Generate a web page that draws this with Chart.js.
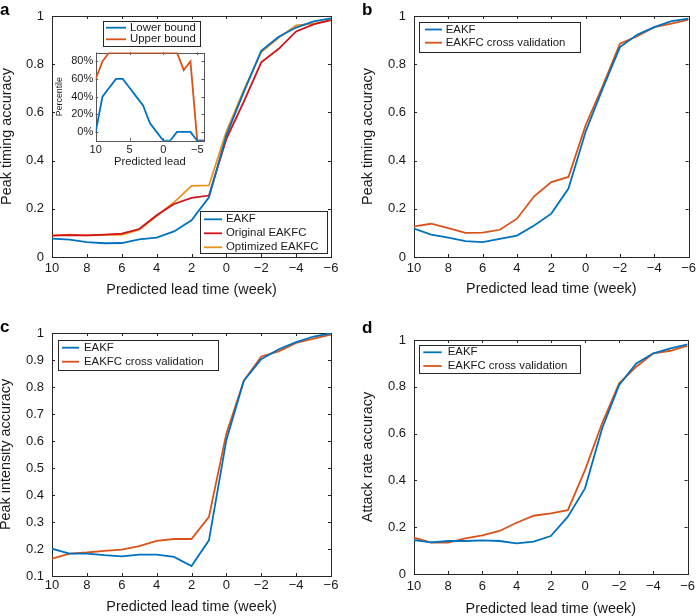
<!DOCTYPE html>
<html><head><meta charset="utf-8">
<script src="https://cdn.jsdelivr.net/npm/chart.js@4.4.1/dist/chart.umd.min.js"></script>
<style>
html,body{margin:0;padding:0;background:#fff;}
body{width:700px;height:616px;position:relative;overflow:hidden;font-family:"Liberation Sans",Arial,sans-serif;}
canvas{position:absolute;}
.lt{position:absolute;font-weight:bold;font-size:17px;line-height:17px;color:#000;font-family:"Liberation Sans",Arial,sans-serif;}
</style></head><body>
<canvas id="ca" width="350" height="300" style="left:0;top:0"></canvas>
<canvas id="cb" width="350" height="300" style="left:350px;top:0"></canvas>
<canvas id="cc" width="350" height="316" style="left:0;top:300px"></canvas>
<canvas id="cd" width="350" height="316" style="left:350px;top:300px"></canvas>
<canvas id="ci" width="170" height="160" style="left:45px;top:15px"></canvas>
<div class="lt" style="left:0;top:1px">a</div>
<div class="lt" style="left:362px;top:1px">b</div>
<div class="lt" style="left:0;top:318px">c</div>
<div class="lt" style="left:362px;top:319px">d</div>
<script>
// ---------- data ----------
const leadWeeks = [10, 9, 8, 7, 6, 5, 4, 3, 2, 1, 0, -1, -2, -3, -4, -5, -6];
const xTickValues = [10, 8, 6, 4, 2, 0, -2, -4, -6];
const accuracyTicks = [0, 0.2, 0.4, 0.6, 0.8, 1];
const intensityTicks = [0.1, 0.2, 0.3, 0.4, 0.5, 0.6, 0.7, 0.8, 0.9, 1];
const insetXTicks = [10, 5, 0, -5];
const insetYTicks = [0, 20, 40, 60, 80];

// panel a
const aEAKF      = [0.076, 0.072, 0.062, 0.057, 0.058, 0.073, 0.080, 0.106, 0.152, 0.248, 0.505, 0.685, 0.856, 0.914, 0.952, 0.978, 0.990];
const aOriginal  = [0.089, 0.091, 0.090, 0.093, 0.097, 0.116, 0.173, 0.220, 0.245, 0.255, 0.490, 0.645, 0.808, 0.864, 0.936, 0.965, 0.983];
const aOptimized = [0.090, 0.093, 0.090, 0.092, 0.092, 0.113, 0.170, 0.227, 0.295, 0.297, 0.520, 0.692, 0.850, 0.910, 0.961, 0.968, 0.983];
// inset of panel a (percentile)
const insetLower = [0, 40, 50, 60, 60, 50, 40, 30, 10, 0, -10, -10, 0, 0, 0, -10, -10];
const insetUpper = [60, 80, 90, 90, 90, 90, 90, 90, 90, 90, 90, 90, 90, 70, 80, -10, -10];
// panel b
const bEAKF  = [0.118, 0.093, 0.080, 0.066, 0.062, 0.075, 0.089, 0.131, 0.180, 0.284, 0.520, 0.700, 0.871, 0.922, 0.954, 0.979, 0.989];
const bCross = [0.127, 0.138, 0.120, 0.100, 0.101, 0.113, 0.159, 0.252, 0.311, 0.332, 0.546, 0.710, 0.885, 0.916, 0.954, 0.968, 0.985];
// panel c
const cEAKF  = [0.201, 0.183, 0.183, 0.177, 0.173, 0.179, 0.179, 0.171, 0.137, 0.232, 0.604, 0.823, 0.903, 0.940, 0.966, 0.987, 0.999];
const cCross = [0.164, 0.183, 0.187, 0.193, 0.198, 0.211, 0.230, 0.237, 0.237, 0.319, 0.628, 0.823, 0.913, 0.932, 0.963, 0.979, 0.994];
// panel d
const dEAKF  = [0.145, 0.135, 0.141, 0.141, 0.144, 0.141, 0.131, 0.138, 0.162, 0.245, 0.366, 0.622, 0.808, 0.900, 0.943, 0.964, 0.981];
const dCross = [0.155, 0.134, 0.134, 0.152, 0.165, 0.184, 0.219, 0.249, 0.259, 0.273, 0.444, 0.644, 0.815, 0.886, 0.943, 0.954, 0.976];

// ---------- styling ----------
const FONT = '"Liberation Sans", Arial, Helvetica, sans-serif';
const BLUE = '#0072BD', ORANGE = '#D95319', RED = '#D0121B', GOLD = '#E8921C';
const AXIS = '#262626', TEXT = '#1a1a1a';

const fmtMinus = v => (v < 0 ? '\u2212' + Math.abs(v) : String(+Number(v).toFixed(2)));
const pts = ys => leadWeeks.map((x, i) => ({x, y: ys[i]}));

const framePlugin = {
  id: 'frame',
  beforeDatasetsDraw(chart, args, o) {
    const {ctx, chartArea: a, scales} = chart;
    ctx.save();
    if (o.fill) { ctx.fillStyle = o.fill; ctx.fillRect(a.left, a.top, a.right - a.left, a.bottom - a.top); }
    ctx.strokeStyle = o.color; ctx.lineWidth = 1;
    const L = o.tick;
    ctx.beginPath();
    for (const t of scales.x.ticks) {
      const p = Math.round(scales.x.getPixelForValue(t.value)) + 0.5;
      ctx.moveTo(p, a.bottom); ctx.lineTo(p, a.bottom - L);
      ctx.moveTo(p, a.top); ctx.lineTo(p, a.top + L);
    }
    for (const t of scales.y.ticks) {
      const p = Math.round(scales.y.getPixelForValue(t.value)) + 0.5;
      ctx.moveTo(a.left, p); ctx.lineTo(a.left + L, p);
      ctx.moveTo(a.right, p); ctx.lineTo(a.right - L, p);
    }
    ctx.stroke();
    ctx.strokeRect(Math.round(a.left) + 0.5, Math.round(a.top) + 0.5, Math.round(a.right - a.left), Math.round(a.bottom - a.top));
    ctx.restore();
  }
};

const legendPlugin = {
  id: 'boxLegend',
  afterDatasetsDraw(chart, args, o) {
    if (!o.box) return;
    const ctx = chart.ctx; const [x1, y1, x2, y2] = o.box;
    ctx.save();
    ctx.fillStyle = '#fff'; ctx.fillRect(x1, y1, x2 - x1, y2 - y1);
    ctx.strokeStyle = AXIS; ctx.lineWidth = 1;
    ctx.strokeRect(Math.round(x1) + 0.5, Math.round(y1) + 0.5, Math.round(x2 - x1), Math.round(y2 - y1));
    ctx.font = o.size + 'px ' + FONT;
    ctx.textBaseline = 'middle'; ctx.textAlign = 'left';
    chart.data.datasets.forEach((d, i) => {
      const y = o.rows[i];
      ctx.strokeStyle = d.borderColor; ctx.lineWidth = d.borderWidth;
      ctx.beginPath(); ctx.moveTo(o.line[0], y); ctx.lineTo(o.line[1], y); ctx.stroke();
      ctx.fillStyle = TEXT; ctx.fillText(d.label, o.textX, y);
    });
    ctx.restore();
  }
};

function makeChart(id, p) {
  const el = document.getElementById(id);
  const W = el.width, H = el.height;
  const setTicks = arr => (s => { s.ticks = arr.map(v => ({value: v})); });
  return new Chart(el, {
    type: 'line',
    data: {datasets: p.series.map(s => ({
      label: s.label, data: pts(s.values), borderColor: s.color, backgroundColor: s.color,
      borderWidth: p.lw, pointRadius: 0, tension: 0, fill: false
    }))},
    options: {
      responsive: false, animation: false, devicePixelRatio: 1,
      layout: {padding: {left: 0, top: p.area.t, right: W - p.area.r, bottom: 0}},
      plugins: {
        legend: {display: false}, tooltip: {enabled: false},
        frame: {color: p.frameColor || AXIS, tick: p.tick || 3, fill: p.fill},
        boxLegend: p.legend
      },
      scales: {
        x: {
          type: 'linear', reverse: true, min: p.xMin, max: p.xMax,
          afterBuildTicks: setTicks(p.xTicks),
          afterFit: s => { s.height = H - p.area.b; },
          grid: {display: false, drawTicks: false}, border: {display: false},
          ticks: {color: TEXT, font: {family: FONT, size: p.tickSize}, padding: p.xTickPad, maxRotation: 0, autoSkip: false, callback: fmtMinus},
          title: {display: true, text: p.xTitle, color: TEXT, font: {family: FONT, size: p.titleSize, lineHeight: 1}, padding: {top: 0, bottom: p.xTitlePad}}
        },
        y: {
          type: 'linear', min: p.yMin, max: p.yMax,
          afterBuildTicks: setTicks(p.yTicks),
          afterFit: s => { s.width = p.area.l; },
          grid: {display: false, drawTicks: false}, border: {display: false},
          ticks: {color: TEXT, font: {family: FONT, size: p.tickSize}, padding: p.yTickPad, autoSkip: false, callback: p.yFmt || fmtMinus},
          title: {display: true, text: p.yTitle, color: TEXT, font: {family: FONT, size: p.yTitleSize || p.titleSize, lineHeight: 1}, padding: {top: p.yTitlePad, bottom: 0}}
        }
      }
    },
    plugins: [framePlugin, legendPlugin]
  });
}

const common = {xMin: -6, xMax: 10, xTicks: xTickValues, tickSize: 13, titleSize: 14.4, lw: 1.8,
  xTitle: 'Predicted lead time (week)', yTickPad: 8};

makeChart('ca', Object.assign({}, common, {
  area: {l: 52, r: 331, t: 16, b: 257},
  yMin: 0, yMax: 1, yTicks: accuracyTicks, yTitle: 'Peak timing accuracy',
  xTickPad: 4, xTitlePad: 2.4, yTitlePad: 0,
  series: [
    {label: 'EAKF', values: aEAKF, color: BLUE},
    {label: 'Original EAKFC', values: aOriginal, color: RED},
    {label: 'Optimized EAKFC', values: aOptimized, color: GOLD}
  ],
  legend: {box: [200, 211, 327, 253], rows: [219.3, 233.3, 247.3], line: [204, 222], textX: 226, size: 11.4}
}));

makeChart('cb', Object.assign({}, common, {
  area: {l: 64, r: 342, t: 16, b: 257},
  yMin: 0, yMax: 1, yTicks: accuracyTicks, yTitle: 'Peak timing accuracy',
  xTickPad: 4, xTitlePad: 3.3, yTitlePad: 10.5,
  series: [
    {label: 'EAKF', values: bEAKF, color: BLUE},
    {label: 'EAKFC cross validation', values: bCross, color: ORANGE}
  ],
  legend: {box: [69, 21.5, 230, 51], rows: [29.5, 42.7], line: [75, 92], textX: 95.7, size: 11.4}
}));

makeChart('cc', Object.assign({}, common, {
  area: {l: 52, r: 331, t: 33, b: 276},
  yMin: 0.1, yMax: 1, yTicks: intensityTicks, yTitle: 'Peak intensity accuracy',
  xTickPad: 2, xTitlePad: 1.8, yTitlePad: -1,
  series: [
    {label: 'EAKF', values: cEAKF, color: BLUE},
    {label: 'EAKFC cross validation', values: cCross, color: ORANGE}
  ],
  legend: {box: [58, 40, 218, 69.5], rows: [47.7, 61.7], line: [62, 79], textX: 84, size: 11.4}
}));

makeChart('cd', Object.assign({}, common, {
  area: {l: 64, r: 342, t: 40, b: 274},
  yMin: 0, yMax: 1, yTicks: accuracyTicks, yTitle: 'Attack rate accuracy',
  xTickPad: 5, xTitlePad: 0.1, yTitlePad: 10.5,
  series: [
    {label: 'EAKF', values: dEAKF, color: BLUE},
    {label: 'EAKFC cross validation', values: dCross, color: ORANGE}
  ],
  legend: {box: [69.3, 45, 230.7, 73.3], rows: [52.3, 66], line: [73.3, 91.7], textX: 97.7, size: 11.4}
}));

makeChart('ci', {
  xMin: -6, xMax: 10, xTicks: insetXTicks, tickSize: 11, titleSize: 11.2, yTitleSize: 8.8, lw: 1.8,
  area: {l: 50.7, r: 159, t: 37.5, b: 125.7},
  yMin: -10, yMax: 90, yTicks: insetYTicks, yFmt: v => v + '%',
  xTitle: 'Predicted lead', yTitle: 'Percentile',
  xTickPad: 2.7, yTickPad: 2.5, xTitlePad: 7.1, yTitlePad: 9.9,
  frameColor: '#555', tick: 2.5, fill: '#fff',
  series: [
    {label: 'Lower bound', values: insetLower, color: BLUE},
    {label: 'Upper bound', values: insetUpper, color: ORANGE}
  ],
  legend: {box: [58.3, 6, 155, 31], rows: [12.7, 24.3], line: [61, 81], textX: 85, size: 11.4}
});
</script>
</body></html>
